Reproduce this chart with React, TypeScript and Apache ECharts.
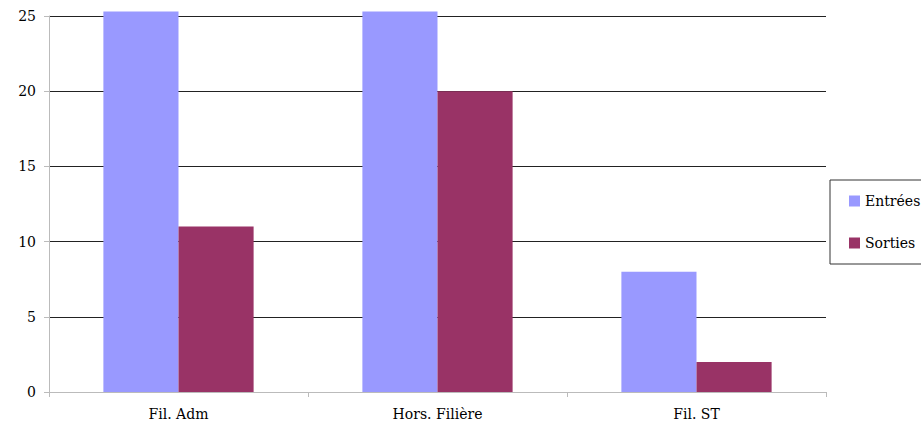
import React, { useEffect, useRef } from "react";
import * as echarts from "echarts";

const categories = ["Fil. Adm", "Hors. Filière", "Fil. ST"];
const entrees = [25.3, 25.3, 8];
const sorties = [11, 20, 2];
const seriesNames = ["Entrées", "Sorties"];

export default function App() {
  const ref = useRef<HTMLDivElement>(null);
  useEffect(() => {
    if (!ref.current) return;
    const chart = echarts.init(ref.current, undefined, { renderer: "svg" });
    const font = "DejaVu Serif";
    chart.setOption({
      animation: false,
      backgroundColor: "#ffffff",
      textStyle: { fontFamily: font },
      grid: { left: 49, right: 95, top: 16, bottom: 40, containLabel: false },
      legend: {
        orient: "vertical",
        left: 830,
        top: 180,
        data: seriesNames,
        icon: "rect",
        itemWidth: 11,
        itemHeight: 11,
        itemGap: 28,
        padding: [14, 30, 14, 19],
        borderColor: "#333",
        borderWidth: 1,
        textStyle: { fontFamily: font, fontSize: 14, color: "#000" },
      },
      xAxis: {
        type: "category",
        data: categories,
        axisLine: { show: true, lineStyle: { color: "#bbb", width: 1 } },
        axisTick: { show: true, length: 5, alignWithLabel: false, lineStyle: { color: "#bbb" } },
        axisLabel: { fontFamily: font, fontSize: 14, color: "#000", margin: 15 },
        splitLine: { show: false },
      },
      yAxis: {
        type: "value",
        min: 0,
        max: 25,
        interval: 5,
        axisLine: { show: true, lineStyle: { color: "#bbb", width: 1 } },
        axisTick: { show: true, length: 5, lineStyle: { color: "#bbb" } },
        axisLabel: { fontFamily: font, fontSize: 14, color: "#000", margin: 13 },
        splitLine: { show: true, lineStyle: { color: "#222", width: 1 } },
      },
      series: [
        {
          name: seriesNames[0],
          type: "bar",
          data: entrees,
          clip: false,
          barGap: "0%",
          barCategoryGap: "42%",
          itemStyle: { color: "#9999FF" },
          z: 3,
        },
        {
          name: seriesNames[1],
          type: "bar",
          data: sorties,
          clip: false,
          barGap: "0%",
          barCategoryGap: "42%",
          itemStyle: { color: "#993366" },
          z: 3,
        },
      ],
    });
    return () => chart.dispose();
  }, []);
  return (
    <div
      ref={ref}
      style={{ position: "fixed", left: 0, top: 0, width: 921, height: 432 }}
    />
  );
}
